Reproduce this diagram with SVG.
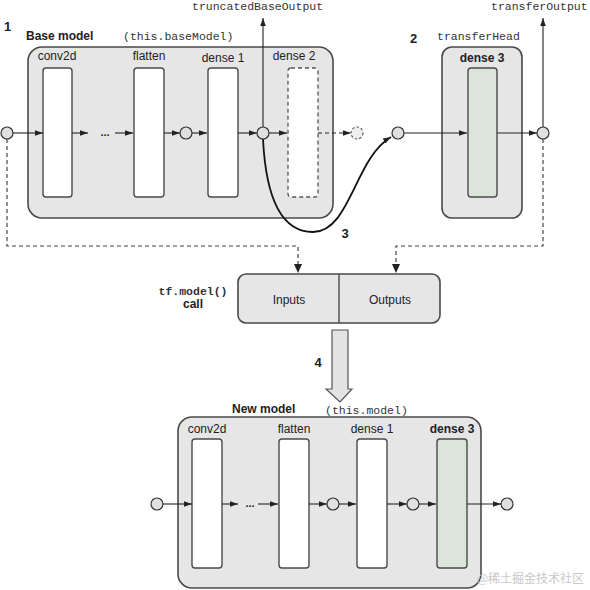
<svg xmlns="http://www.w3.org/2000/svg" width="590" height="590" viewBox="0 0 590 590">
<defs>
<style>
.box{fill:#e6e6e6;stroke:#4a4a4a;stroke-width:1.6}
.layer{fill:#fff;stroke:#4a4a4a;stroke-width:1.4}
.green{fill:#dbe5da;stroke:#4a4a4a;stroke-width:1.4}
.dlayer{fill:#fff;stroke:#555;stroke-width:1.3;stroke-dasharray:4 3}
.node{fill:#e0e0e0;stroke:#333;stroke-width:1.2}
.dnode{fill:#eee;stroke:#555;stroke-width:1.1;stroke-dasharray:2.5 2}
.ln{stroke:#222;stroke-width:1.1;fill:none}
.dl{stroke:#444;stroke-width:1.2;fill:none;stroke-dasharray:4 3}
.sans{font-family:"Liberation Sans",Arial,sans-serif;font-size:12px;fill:#222}
.b{font-weight:bold}
.mono{font-family:"Liberation Mono","Courier New",monospace;font-size:11.5px;fill:#333}
.num{font-family:"Liberation Sans",Arial,sans-serif;font-size:13px;font-weight:bold;fill:#222}
.dots{font-family:"Liberation Sans",Arial,sans-serif;font-size:11px;fill:#222;font-weight:bold}
</style>
<marker id="ah" viewBox="0 0 10 10" refX="10" refY="5" markerWidth="8" markerHeight="8" markerUnits="userSpaceOnUse" orient="auto">
<path d="M0,1.5 L10,5 L0,8.5 z" fill="#222"/>
</marker>
</defs>

<!-- top labels -->
<text class="num" x="4" y="31">1</text>
<text class="sans b" x="26" y="40">Base model</text>
<text class="mono" x="123" y="40">(this.baseModel)</text>
<text class="mono" x="192" y="10">truncatedBaseOutput</text>
<text class="num" x="410" y="43">2</text>
<text class="mono" x="437" y="40">transferHead</text>
<text class="mono" x="491" y="10">transferOutput</text>

<g id="base-model">
<rect class="box" x="28" y="47" width="305" height="171" rx="14"/>
</g>
<g id="conv2d-a">
<text class="sans" x="57" y="60" text-anchor="middle">conv2d</text>
<rect class="layer" x="43" y="68" width="29" height="129" rx="3"/>
</g>
<g id="flatten-a">
<text class="sans" x="149" y="60" text-anchor="middle">flatten</text>
<rect class="layer" x="134" y="68" width="30" height="129" rx="3"/>
</g>
<g id="dense1-a">
<text class="sans" x="223" y="62" text-anchor="middle">dense 1</text>
<rect class="layer" x="208" y="68" width="30" height="129" rx="3"/>
</g>
<g id="dense2-a">
<text class="sans" x="294" y="60" text-anchor="middle">dense 2</text>
<rect class="dlayer" x="288" y="68" width="30" height="129" rx="3"/>
</g>
<g id="transfer-head">
<rect class="box" x="442" y="47" width="80" height="171" rx="10"/>
<text class="sans b" x="482" y="62" text-anchor="middle">dense 3</text>
<rect class="green" x="468" y="68" width="29" height="129" rx="3"/>
</g>

<g id="model-call">
<rect class="box" x="238" y="274" width="202" height="49" rx="8"/>
<line x1="339" y1="274" x2="339" y2="323" stroke="#4a4a4a" stroke-width="1.4"/>
<text class="sans" x="289" y="304" text-anchor="middle">Inputs</text>
<text class="sans" x="390" y="304" text-anchor="middle">Outputs</text>
<text class="mono b" x="193" y="295" text-anchor="middle">tf.model()</text>
<text class="sans b" x="193" y="308" text-anchor="middle">call</text>
</g>

<g id="step4-arrow">
<path d="M332,330 L348,330 L348,389 L352,389 L340,402 L326,389 L332,389 Z" fill="#e3e3e3" stroke="#555" stroke-width="1.2"/>
<text class="num" x="318" y="367" text-anchor="middle">4</text>
</g>

<!-- new model -->
<text class="sans b" x="232" y="413">New model</text>
<text class="mono" x="325" y="414">(this.model)</text>
<g id="new-model">
<rect class="box" x="178" y="417" width="303" height="171" rx="14"/>
</g>
<g id="conv2d-b">
<text class="sans" x="207" y="433" text-anchor="middle">conv2d</text>
<rect class="layer" x="192" y="439" width="30" height="129" rx="3"/>
</g>
<g id="flatten-b">
<text class="sans" x="294" y="433" text-anchor="middle">flatten</text>
<rect class="layer" x="279" y="439" width="30" height="129" rx="3"/>
</g>
<g id="dense1-b">
<text class="sans" x="372" y="433" text-anchor="middle">dense 1</text>
<rect class="layer" x="357" y="439" width="30" height="129" rx="3"/>
</g>
<g id="dense3-b">
<text class="sans b" x="452" y="433" text-anchor="middle">dense 3</text>
<rect class="green" x="437" y="439" width="30" height="129" rx="3"/>
</g>

<g id="connectors">
<!-- top chain -->
<line class="ln" x1="13" y1="133" x2="43" y2="133" marker-end="url(#ah)"/>
<line class="ln" x1="72" y1="133" x2="88" y2="133" marker-end="url(#ah)"/>
<text class="dots" x="105" y="136" text-anchor="middle">...</text>
<line class="ln" x1="115" y1="133" x2="133" y2="133" marker-end="url(#ah)"/>
<line class="ln" x1="164" y1="133" x2="180" y2="133" marker-end="url(#ah)"/>
<line class="ln" x1="192" y1="133" x2="207" y2="133" marker-end="url(#ah)"/>
<line class="ln" x1="238" y1="133" x2="257" y2="133" marker-end="url(#ah)"/>
<line class="ln" x1="269" y1="133" x2="287" y2="133" marker-end="url(#ah)"/>
<line class="ln" x1="263" y1="127" x2="263" y2="18" marker-end="url(#ah)"/>
<line class="ln" x1="318" y1="133" x2="351" y2="133" stroke-dasharray="4 3" marker-end="url(#ah)"/>
<line class="ln" x1="404" y1="133" x2="467" y2="133" marker-end="url(#ah)"/>
<line class="ln" x1="497" y1="133" x2="537" y2="133" marker-end="url(#ah)"/>
<line class="ln" x1="543" y1="127" x2="543" y2="18" marker-end="url(#ah)"/>
<!-- curve 3 -->
<path d="M263,139 C266,200 282,232 313,232 C350,232 355,158 391,137" fill="none" stroke="#111" stroke-width="1.8" marker-end="url(#ah)"/>
<text class="num" x="345" y="238" text-anchor="middle">3</text>
<!-- dashed to call -->
<path class="dl" d="M7,139 L7,246 L298,246 L298,266"/>
<path d="M294,264 L298,273 L302,264 z" fill="#222"/>
<path class="dl" d="M543,139 L543,246 L396,246 L396,266"/>
<path d="M392,264 L396,273 L400,264 z" fill="#222"/>
<!-- bottom chain -->
<line class="ln" x1="163" y1="504" x2="192" y2="504" marker-end="url(#ah)"/>
<line class="ln" x1="222" y1="504" x2="238" y2="504" marker-end="url(#ah)"/>
<text class="dots" x="250" y="507" text-anchor="middle">...</text>
<line class="ln" x1="258" y1="504" x2="278" y2="504" marker-end="url(#ah)"/>
<line class="ln" x1="309" y1="504" x2="327" y2="504" marker-end="url(#ah)"/>
<line class="ln" x1="339" y1="504" x2="356" y2="504" marker-end="url(#ah)"/>
<line class="ln" x1="387" y1="504" x2="407" y2="504" marker-end="url(#ah)"/>
<line class="ln" x1="419" y1="504" x2="436" y2="504" marker-end="url(#ah)"/>
<line class="ln" x1="467" y1="504" x2="501" y2="504" marker-end="url(#ah)"/>
</g>

<g id="nodes">
<circle class="node" cx="7" cy="133" r="6"/>
<circle class="node" cx="186" cy="133" r="6"/>
<circle class="node" cx="263" cy="133" r="6"/>
<circle class="dnode" cx="357" cy="133" r="6"/>
<circle class="node" cx="398" cy="133" r="6"/>
<circle class="node" cx="543" cy="133" r="6"/>
<circle class="node" cx="157" cy="504" r="6"/>
<circle class="node" cx="333" cy="504" r="6"/>
<circle class="node" cx="413" cy="504" r="6"/>
<circle class="node" cx="507" cy="504" r="6"/>
</g>

<text x="584" y="583" text-anchor="end" font-family="'Noto Sans CJK SC',sans-serif" font-size="12" fill="#c8c8c8">@稀土掘金技术社区</text>
</svg>
